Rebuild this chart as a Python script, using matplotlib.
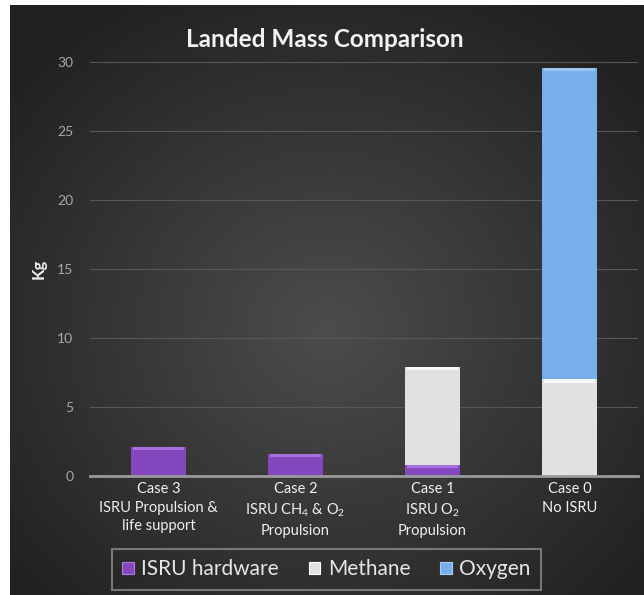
import matplotlib.pyplot as plt
from matplotlib.patches import Patch
import numpy as np

cases = ['Case 3\nISRU Propulsion &\nlife support',
         'Case 2\nISRU CH$_4$ & O$_2$\nPropulsion',
         'Case 1\nISRU O$_2$\nPropulsion',
         'Case 0\nNo ISRU']
isru_hw = [2.1, 1.6, 0.8, 0.0]
methane = [0.0, 0.0, 7.1, 7.0]
oxygen = [0.0, 0.0, 0.0, 22.6]

names = ['ISRU hardware', 'Methane', 'Oxygen']
colors = ['#8447bd', '#e1e1e1', '#78aee9']
tops = ['#b07ce6', '#ffffff', '#a9cdf5']

plt.rcParams['font.family'] = ['Lato', 'DejaVu Sans']
plt.rcParams['mathtext.fontset'] = 'custom'
plt.rcParams['mathtext.rm'] = 'Lato'
plt.rcParams['mathtext.it'] = 'Lato'

fig = plt.figure(figsize=(6.44, 5.95), dpi=100, facecolor='white')

# dark radial background of the chart area
bg = fig.add_axes([10 / 644, 0, 634 / 644, 590 / 595])
yy, xx = np.mgrid[-1:1:300j, -1:1:300j]
r = np.sqrt(xx ** 2 + (yy - 0.1) ** 2)
shade = np.clip(0.30 - 0.13 * r, 0.13, 0.30)
bg.imshow(shade, cmap='gray', vmin=0, vmax=1, aspect='auto',
          extent=[0, 1, 0, 1], interpolation='bicubic')
bg.axis('off')

ax = fig.add_axes([90 / 644, 119 / 595, 548 / 644, 414 / 595])
ax.patch.set_alpha(0)

x = np.arange(len(cases))
width = 0.4
bottom = np.zeros(len(cases))
for vals, c, tc, name in zip([isru_hw, methane, oxygen], colors, tops, names):
    vals = np.array(vals)
    ax.bar(x, vals, width, bottom=bottom, color=c, label=name, zorder=3)
    # bevelled highlight on top of each segment
    band = np.minimum(vals, 0.25)
    ax.bar(x, band, width * 0.92, bottom=bottom + vals - band, color=tc,
           alpha=0.8, zorder=4)
    bottom += vals

ax.set_ylim(0, 30)
ax.set_xlim(-0.5, len(cases) - 0.5)
ax.set_yticks(range(0, 31, 5))
ax.set_xticks(x)
ax.set_xticklabels(cases, color='#f0f0f0', fontsize=10.5, linespacing=1.45)
ax.tick_params(axis='y', colors='#a8a8a8', labelsize=10, length=0, pad=12)
ax.tick_params(axis='x', length=0, pad=4)
ax.grid(axis='y', color='#575757', linewidth=0.8, zorder=0)
for s in ['top', 'right', 'left']:
    ax.spines[s].set_visible(False)
ax.spines['bottom'].set_color('#9a9a9a')
ax.spines['bottom'].set_linewidth(2)
ax.spines['bottom'].set_zorder(5)

ax.set_ylabel('Kg', color='#f0f0f0', fontsize=12, fontweight='bold', labelpad=2)
ax.yaxis.set_label_coords(-0.08, 0.5)

fig.text(0.505, 0.933, 'Landed Mass Comparison', color='#f2f2f2',
         fontsize=17.5, fontweight='bold', ha='center', va='center')

handles = [Patch(facecolor=c, edgecolor=tc, linewidth=0.8)
           for c, tc in zip(colors, tops)]
leg = fig.legend(handles, names, loc='center', bbox_to_anchor=(0.507, 0.043),
                 ncol=3, frameon=True, fancybox=False, fontsize=15,
                 handlelength=0.55, handleheight=0.55, handletextpad=0.35,
                 columnspacing=1.45, borderpad=0.5, labelcolor='#e6e6e6')
leg.get_frame().set_facecolor('none')
leg.get_frame().set_edgecolor('#8c8c8c')
leg.get_frame().set_linewidth(1.5)

fig.savefig('out.png', dpi=100, facecolor='white')
